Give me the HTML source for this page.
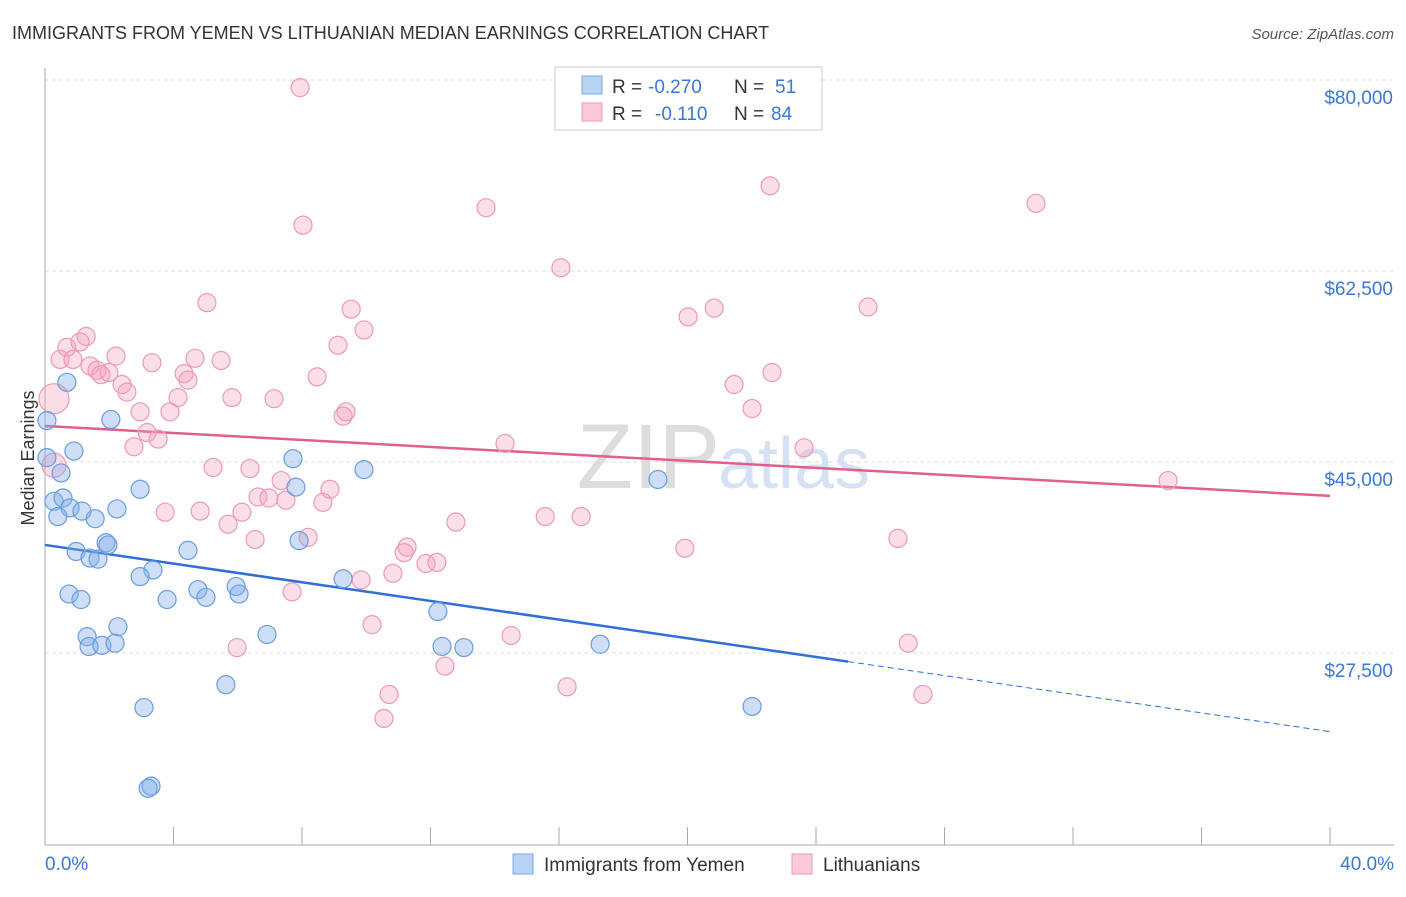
<!DOCTYPE html>
<html><head><meta charset="utf-8">
<style>
body{margin:0;background:#fff;font-family:"Liberation Sans",sans-serif;}
svg text{font-family:"Liberation Sans",sans-serif;}
</style></head>
<body>
<svg id="chart" width="1406" height="892" xmlns="http://www.w3.org/2000/svg">
<text x="12" y="39" font-size="18" fill="#333">IMMIGRANTS FROM YEMEN VS LITHUANIAN MEDIAN EARNINGS CORRELATION CHART</text>
<text x="1394" y="39" font-size="15" fill="#555" text-anchor="end" font-style="italic">Source: ZipAtlas.com</text>
<text x="34" y="458" font-size="18" fill="#333" text-anchor="middle" transform="rotate(-90 34 458)">Median Earnings</text>
<text x="720" y="488" font-size="92" fill="#ddd" text-anchor="end" font-family="Liberation Serif">ZIP</text>
<text x="718" y="488" font-size="72" fill="#d5e2f3">atlas</text>
<g id="grid"></g><g id="axes"></g><g id="trends"></g><g id="pts"></g>
<g>
<rect x="555" y="67" width="267" height="63" fill="#fff" stroke="#ccc"/>
<rect x="582" y="76" width="20" height="18" fill="#b9d3f5" stroke="#7aa7e3"/>
<rect x="582" y="103" width="20" height="18" fill="#fbc9d8" stroke="#eb9ab5"/>
<text x="612" y="93" font-size="19" fill="#333">R =</text>
<text x="648" y="93" font-size="19" fill="#3a78d4">-0.270</text>
<text x="734" y="93" font-size="19" fill="#333">N =</text>
<text x="775" y="93" font-size="19" fill="#3a78d4">51</text>
<text x="612" y="120" font-size="19" fill="#333">R =</text>
<text x="655" y="120" font-size="19" fill="#3a78d4">-0.110</text>
<text x="734" y="120" font-size="19" fill="#333">N =</text>
<text x="771" y="120" font-size="19" fill="#3a78d4">84</text>
</g>
<g>
<rect x="513" y="854" width="20" height="20" fill="#b9d3f5" stroke="#7aa7e3"/>
<text x="544" y="871" font-size="19" fill="#333">Immigrants from Yemen</text>
<rect x="792" y="854" width="20" height="20" fill="#fbc9d8" stroke="#eb9ab5"/>
<text x="823" y="871" font-size="19" fill="#333">Lithuanians</text>
</g>
</svg>
<script>
const yTicks=[80000,62500,45000,27500];
const yTickLabels=["$80,000","$62,500","$45,000","$27,500"];
const xTickLabels=["0.0%","40.0%"];
const blueX=[0.68,0.06,2.05,0.9,0.06,0.5,0.28,0.56,0.78,1.15,2.24,2.96,0.4,1.56,1.9,1.96,4.45,0.97,1.4,1.65,3.36,2.96,0.75,1.12,3.8,4.76,5.01,5.95,6.04,2.27,1.31,1.37,1.77,2.18,6.91,7.72,7.81,7.91,9.28,9.93,12.23,12.36,13.04,17.28,19.08,5.63,3.08,22.01,3.3,3.21];
const blueY=[52.3,48.8,48.9,46.0,45.4,44.0,41.4,41.7,40.8,40.5,40.7,42.5,40.0,39.8,37.6,37.4,36.9,36.8,36.2,36.1,35.1,34.5,32.9,32.4,32.4,33.3,32.6,33.6,32.9,29.9,29.0,28.1,28.2,28.4,29.2,45.3,42.7,37.8,34.3,44.3,31.3,28.1,28.0,28.3,43.4,24.6,22.5,22.6,15.3,15.1];
const pinkX=[7.94,8.03,13.73,22.57,30.85,16.06,5.04,9.53,9.93,20.02,20.83,25.62,1.28,0.68,1.09,0.47,0.87,2.21,3.33,4.67,5.48,9.12,1.4,1.62,1.99,1.74,2.4,2.55,4.33,4.45,8.47,22.63,21.45,0.28,2.96,3.89,4.14,5.82,7.13,9.37,9.28,22.01,3.18,3.52,2.77,14.32,23.63,0.28,5.23,6.38,7.35,8.87,6.63,6.97,7.5,8.65,3.74,4.83,6.13,5.7,12.79,15.57,16.69,6.54,8.19,11.27,11.18,19.92,26.55,11.86,12.2,10.83,9.84,7.69,10.18,14.51,26.87,5.98,12.45,16.25,10.71,27.33,10.55,34.96];
const pinkY=[79.3,66.7,68.3,70.3,68.7,62.8,59.6,59.0,57.1,58.3,59.1,59.2,56.5,55.5,56.0,54.4,54.4,54.7,54.1,54.5,54.3,55.7,53.8,53.4,53.2,53.0,52.1,51.4,53.1,52.5,52.8,53.2,52.1,50.8,49.6,49.6,50.9,50.9,50.8,49.6,49.2,49.9,47.7,47.1,46.4,46.7,46.3,44.7,44.5,44.4,43.3,42.5,41.8,41.7,41.5,41.3,40.4,40.5,40.4,39.3,39.5,40.0,40.0,37.9,38.1,37.2,36.7,37.1,38.0,35.7,35.8,34.8,34.2,33.1,30.1,29.1,28.4,28.0,26.3,24.4,23.7,23.7,21.5,43.3];
const pinkR=[];pinkR[33]=15;pinkR[47]=12;
const blueTrend=[37.4,20.3], blueSolidEnd=25;
const pinkTrend=[48.3,41.9];
const X=p=>45+p*1285/40;
const Y=k=>80+(80-k)*191/17.5;
const NS="http://www.w3.org/2000/svg";
function mk(parent,tag,attrs){const e=document.createElementNS(NS,tag);for(const k in attrs)e.setAttribute(k,attrs[k]);document.getElementById(parent).appendChild(e);return e;}
yTicks.forEach((t,i)=>{
  const y=Y(t/1000);
  const l=mk('grid','line',{x1:45,x2:1394,y1:y,y2:y,stroke:'#ddd','stroke-dasharray':'4,3'});
  
  
  const tx=mk('grid','text',{x:1393,y:y+24,'font-size':19,fill:'#3a78d4','text-anchor':'end'});
  tx.textContent=yTickLabels[i];
  
  
});
const ax=mk('axes','line',{x1:45,x2:45,y1:68,y2:845,stroke:'#aaa'});


const bx=mk('axes','line',{x1:45,x2:1394,y1:845,y2:845,stroke:'#aaa'});


for(let i=0;i<=10;i++){const x=X(i*4);const t=mk('axes','line',{x1:x,x2:x,y1:827,y2:845,stroke:'#aaa'});

}
const xl0=mk('axes','text',{x:45,y:870,'font-size':19,fill:'#3a78d4'});xl0.textContent=xTickLabels[0];


const xl1=mk('axes','text',{x:1394,y:870,'font-size':19,fill:'#3a78d4','text-anchor':'end'});xl1.textContent=xTickLabels[1];


const bAt=p=>blueTrend[0]+(blueTrend[1]-blueTrend[0])*p/40;
const pt=mk('trends','line',{x1:X(0),y1:Y(pinkTrend[0]),x2:X(40),y2:Y(pinkTrend[1]),stroke:'#e0608c','stroke-width':2.5});


const bt=mk('trends','line',{x1:X(0),y1:Y(bAt(0)),x2:X(blueSolidEnd),y2:Y(bAt(blueSolidEnd)),stroke:'#2f6fd6','stroke-width':2.5});


const bd=mk('trends','line',{x1:X(blueSolidEnd),y1:Y(bAt(blueSolidEnd)),x2:X(40),y2:Y(bAt(40)),stroke:'#2f6fd6','stroke-width':1,'stroke-dasharray':'6,4'});


pinkX.forEach((v,i)=>{const c=mk('pts','circle',{cx:X(v),cy:Y(pinkY[i]),r:pinkR[i]||9,fill:'rgba(244,160,188,0.35)',stroke:'#ec9ab6','stroke-width':1.2});

});
blueX.forEach((v,i)=>{const c=mk('pts','circle',{cx:X(v),cy:Y(blueY[i]),r:9,fill:'rgba(130,172,232,0.4)',stroke:'#6a9de0','stroke-width':1.2});

});
</script>
</body></html>
